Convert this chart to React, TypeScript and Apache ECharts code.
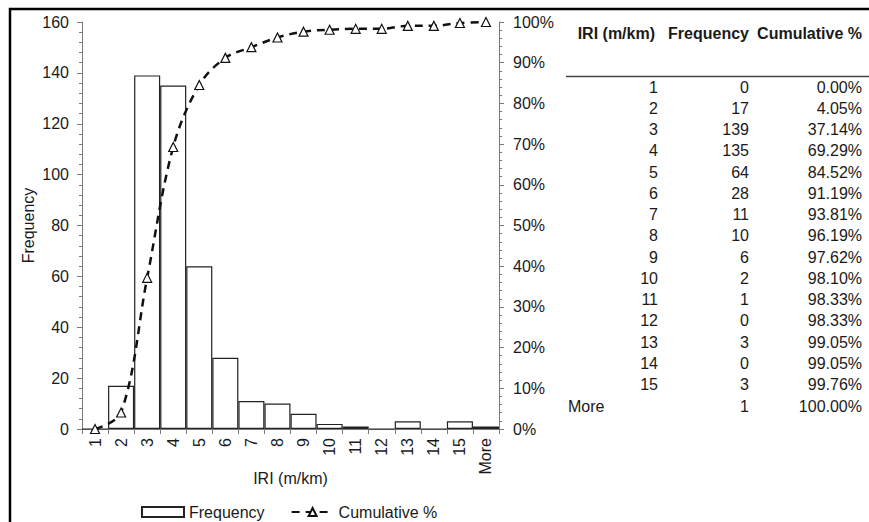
import React, { useEffect, useRef } from "react";
import * as echarts from "echarts";

// IRI bins, counts per bin and running cumulative share
const categories = ["1", "2", "3", "4", "5", "6", "7", "8", "9", "10", "11", "12", "13", "14", "15", "More"];
const frequency = [0, 17, 139, 135, 64, 28, 11, 10, 6, 2, 1, 0, 3, 0, 3, 1];
const cumulative = [0.0, 4.05, 37.14, 69.29, 84.52, 91.19, 93.81, 96.19, 97.62, 98.1, 98.33, 98.33, 99.05, 99.05, 99.76, 100.0];
const tableHeaders = ["IRI (m/km)", "Frequency", "Cumulative %"];

const FONT = "'Liberation Sans', Arial, sans-serif";
const TEXT = "#1a1a1a";
const AXIS = "#7a7a7a";

function buildTable(): any[] {
  const els: any[] = [];
  const colRight = [655, 749, 862];
  tableHeaders.forEach((h, i) => {
    els.push({
      type: "text",
      style: {
        text: h,
        x: colRight[i],
        y: 33,
        align: "right",
        verticalAlign: "middle",
        font: `bold 16px ${FONT}`,
        fill: TEXT,
      },
    });
  });
  els.push({
    type: "line",
    shape: { x1: 566, y1: 76.5, x2: 869, y2: 76.5 },
    style: { stroke: "#444", lineWidth: 1.5 },
  });
  const rowStep = (406 - 87) / (categories.length - 1);
  categories.forEach((c, i) => {
    const y = 87 + i * rowStep;
    const isMore = isNaN(Number(c));
    els.push({
      type: "text",
      style: {
        text: c,
        x: isMore ? 568 : colRight[0] + 3,
        y,
        align: isMore ? "left" : "right",
        verticalAlign: "middle",
        font: `16px ${FONT}`,
        fill: TEXT,
      },
    });
    els.push({
      type: "text",
      style: {
        text: String(frequency[i]),
        x: colRight[1],
        y,
        align: "right",
        verticalAlign: "middle",
        font: `16px ${FONT}`,
        fill: TEXT,
      },
    });
    els.push({
      type: "text",
      style: {
        text: cumulative[i].toFixed(2) + "%",
        x: colRight[2],
        y,
        align: "right",
        verticalAlign: "middle",
        font: `16px ${FONT}`,
        fill: TEXT,
      },
    });
  });
  return els;
}

export default function App() {
  const ref = useRef<HTMLDivElement>(null);

  useEffect(() => {
    if (!ref.current) return;
    const chart = echarts.init(ref.current, null, { renderer: "svg" });
    chart.setOption({
      animation: false,
      backgroundColor: "#ffffff",
      textStyle: { fontFamily: FONT, color: TEXT },
      grid: { left: 82, right: 370, top: 22, bottom: 93, containLabel: false },
      legend: {
        left: 141,
        top: 504,
        padding: 0,
        itemWidth: 42,
        itemHeight: 10,
        itemGap: 26,
        textStyle: { fontSize: 16, color: TEXT, fontFamily: FONT },
        data: [
          { name: "Frequency", icon: "rect" },
          { name: "Cumulative %" },
        ],
      },
      xAxis: {
        type: "category",
        data: categories,
        boundaryGap: true,
        name: "IRI (m/km)",
        nameLocation: "middle",
        nameGap: 49,
        nameMoveOverlap: false,
        nameTextStyle: { fontSize: 16, color: TEXT, verticalAlign: "middle" },
        axisLine: { lineStyle: { color: AXIS, width: 1 } },
        axisTick: { show: true, length: 5, lineStyle: { color: AXIS } },
        axisLabel: { rotate: 90, fontSize: 16, color: TEXT, margin: 9, interval: 0 },
        splitLine: { show: false },
      },
      yAxis: [
        {
          type: "value",
          min: 0,
          max: 160,
          interval: 20,
          name: "Frequency",
          nameLocation: "middle",
          nameGap: 46,
          nameTextStyle: { fontSize: 16, color: TEXT },
          axisLine: { show: true, lineStyle: { color: AXIS } },
          axisTick: { show: true, length: 5, lineStyle: { color: AXIS } },
          minorTick: { show: true, splitNumber: 5, length: 3, lineStyle: { color: AXIS } },
          axisLabel: { fontSize: 16, color: TEXT, margin: 13 },
          splitLine: { show: false },
        },
        {
          type: "value",
          min: 0,
          max: 100,
          interval: 10,
          position: "right",
          axisLine: { show: true, lineStyle: { color: AXIS } },
          axisTick: { show: true, length: 5, lineStyle: { color: AXIS } },
          minorTick: { show: true, splitNumber: 5, length: 3, lineStyle: { color: AXIS } },
          axisLabel: { fontSize: 16, color: TEXT, margin: 14, formatter: "{value}%" },
          splitLine: { show: false },
        },
      ],
      series: [
        {
          name: "Frequency",
          type: "bar",
          data: frequency,
          barCategoryGap: "0%",
          itemStyle: { color: "#ffffff", borderColor: "#222222", borderWidth: 1.2 },
        },
        {
          name: "Cumulative %",
          type: "line",
          yAxisIndex: 1,
          data: cumulative,
          smooth: 0.35,
          symbol: "triangle",
          symbolSize: 9,
          showAllSymbol: true,
          lineStyle: { color: "#111111", width: 2.5, type: [8, 6] },
          itemStyle: { color: "#ffffff", borderColor: "#111111", borderWidth: 1.2 },
          z: 3,
        },
      ],
      graphic: [
        {
          type: "polyline",
          shape: { points: [[10, 522], [10, 9], [869, 9]] },
          style: { stroke: "#000000", lineWidth: 2.5, fill: "none" },
        },
        ...buildTable(),
      ],
    });
    return () => chart.dispose();
  }, []);

  return (
    <div
      ref={ref}
      style={{ position: "fixed", left: 0, top: 0, width: 869, height: 522, background: "#fff" }}
    />
  );
}
